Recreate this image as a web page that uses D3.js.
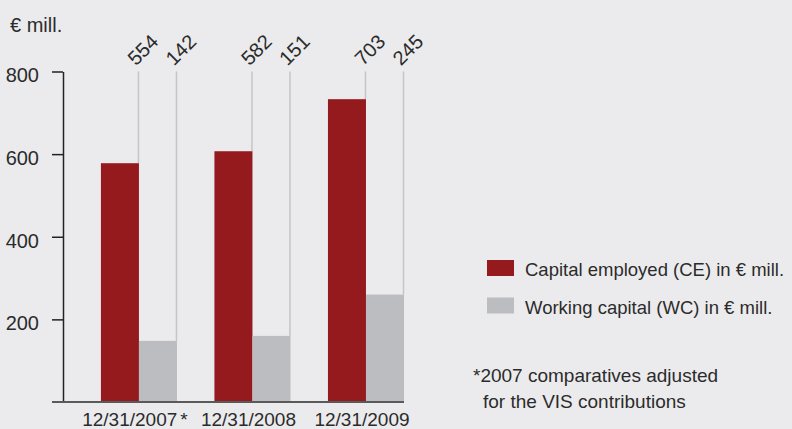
<!DOCTYPE html>
<html>
<head>
<meta charset="utf-8">
<script src="https://cdn.jsdelivr.net/npm/d3@7"></script>
<style>
    html, body { margin: 0; padding: 0; background: #ebebed; }
    svg { display: block; }
    text { font-family: "Liberation Sans", Arial, sans-serif; fill: #2b2b2b; }
</style>
</head>
<body>
<div id="chart"></div>
<script>
// Data
const categories = ['12/31/2007', '12/31/2008', '12/31/2009'];
const categoryNotes = ['*', '', ''];
// Bar heights as drawn
const ceValues = [578, 607, 733];
const wcValues = [148, 160, 260];
// Printed value labels above the bars
const ceLabels = ['554', '582', '703'];
const wcLabels = ['142', '151', '245'];
const yTicks = [200, 400, 600, 800];
const seriesNames = ['Capital employed (CE) in € mill.', 'Working capital (WC) in € mill.'];
const footnote = ['*2007 comparatives adjusted', 'for the VIS contributions'];

const colors = { ce: '#951a1e', wc: '#bcbdc0' };

function drawChart() {
    const width = 792;
    const height = 429;

    const svg = d3.select('#chart')
        .append('svg')
        .attr('width', width)
        .attr('height', height);

    svg.append('rect')
        .attr('width', width)
        .attr('height', height)
        .attr('fill', '#ebebed');

    // Scales
    const x0 = d3.scaleBand()
        .domain(categories)
        .range([63, 404])
        .paddingInner(0.33)
        .paddingOuter(0.167)
        .align(1);

    const x1 = d3.scaleBand()
        .domain(['ce', 'wc'])
        .range([0, x0.bandwidth()]);

    const y = d3.scaleLinear()
        .domain([0, 800])
        .range([402, 71.5]);

    const rows = categories.map((c, i) => ({
        cat: c,
        note: categoryNotes[i],
        ce: ceValues[i],
        wc: wcValues[i],
        ceLabel: ceLabels[i],
        wcLabel: wcLabels[i]
    }));

    const bars = [];
    rows.forEach(r => {
        bars.push({ cat: r.cat, key: 'ce', value: r.ce, label: r.ceLabel });
        bars.push({ cat: r.cat, key: 'wc', value: r.wc, label: r.wcLabel });
    });

    // Leader lines from the top of the axis to the bar tops
    svg.selectAll('.leader')
        .data(bars)
        .enter()
        .append('line')
        .attr('class', 'leader')
        .attr('x1', d => x0(d.cat) + x1(d.key) + x1.bandwidth() - 0.5)
        .attr('x2', d => x0(d.cat) + x1(d.key) + x1.bandwidth() - 0.5)
        .attr('y1', y(800))
        .attr('y2', d => y(d.value))
        .attr('stroke', '#c5c5c7')
        .attr('stroke-width', 1.5);

    // Bars
    svg.selectAll('.bar')
        .data(bars)
        .enter()
        .append('rect')
        .attr('class', 'bar')
        .attr('x', d => x0(d.cat) + x1(d.key))
        .attr('y', d => y(d.value))
        .attr('width', x1.bandwidth())
        .attr('height', d => y(0) - y(d.value))
        .attr('fill', d => colors[d.key]);

    // Rotated value labels
    svg.selectAll('.value-label')
        .data(bars)
        .enter()
        .append('text')
        .attr('class', 'value-label')
        .attr('transform', d => `translate(${x0(d.cat) + x1(d.key) + x1.bandwidth() - 3}, ${y(800) - 5}) rotate(-45)`)
        .attr('font-size', '20px')
        .text(d => d.label);

    // Y axis
    const yAxis = svg.append('g')
        .attr('class', 'y-axis')
        .attr('transform', 'translate(63, 0)')
        .call(d3.axisLeft(y)
            .tickValues(yTicks)
            .tickSize(11)
            .tickSizeOuter(0)
            .tickPadding(13));

    yAxis.select('.domain')
        .attr('stroke', '#222')
        .attr('stroke-width', 1.5);
    yAxis.selectAll('.tick line')
        .attr('stroke', '#222')
        .attr('stroke-width', 1.5);
    yAxis.selectAll('.tick text')
        .attr('fill', '#2b2b2b')
        .attr('font-family', null)
        .attr('font-size', '20px')
        .attr('dy', '0.52em');

    // Baseline (doubles as the 0 tick)
    svg.append('line')
        .attr('x1', 52)
        .attr('x2', x0.range()[1])
        .attr('y1', y(0))
        .attr('y2', y(0))
        .attr('stroke', '#5a5a5a')
        .attr('stroke-width', 2);

    // Category labels
    const catLabels = svg.selectAll('.cat-label')
        .data(rows)
        .enter()
        .append('text')
        .attr('class', 'cat-label')
        .attr('x', d => x0(d.cat) + x0.bandwidth() / 2 - 4)
        .attr('y', 426)
        .attr('text-anchor', 'middle')
        .attr('font-size', '19px');
    catLabels.append('tspan').text(d => d.cat);
    catLabels.append('tspan').attr('dx', 3).text(d => d.note);

    // Unit label
    svg.append('text')
        .attr('x', 10)
        .attr('y', 32)
        .attr('font-size', '20px')
        .text('€ mill.');

    // Legend
    const legend = svg.selectAll('.legend-item')
        .data(seriesNames)
        .enter()
        .append('g')
        .attr('class', 'legend-item')
        .attr('transform', (d, i) => `translate(487, ${260 + i * 37.5})`);

    legend.append('rect')
        .attr('width', 27)
        .attr('height', 16)
        .attr('fill', (d, i) => i === 0 ? colors.ce : colors.wc);

    legend.append('text')
        .attr('x', 38)
        .attr('y', 16)
        .attr('font-size', '18.5px')
        .text(d => d);

    // Footnote
    svg.selectAll('.footnote')
        .data(footnote)
        .enter()
        .append('text')
        .attr('class', 'footnote')
        .attr('x', (d, i) => i === 0 ? 473 : 483)
        .attr('y', (d, i) => 382 + i * 26)
        .attr('font-size', '19px')
        .text(d => d);
}

drawChart();
</script>
</body>
</html>
